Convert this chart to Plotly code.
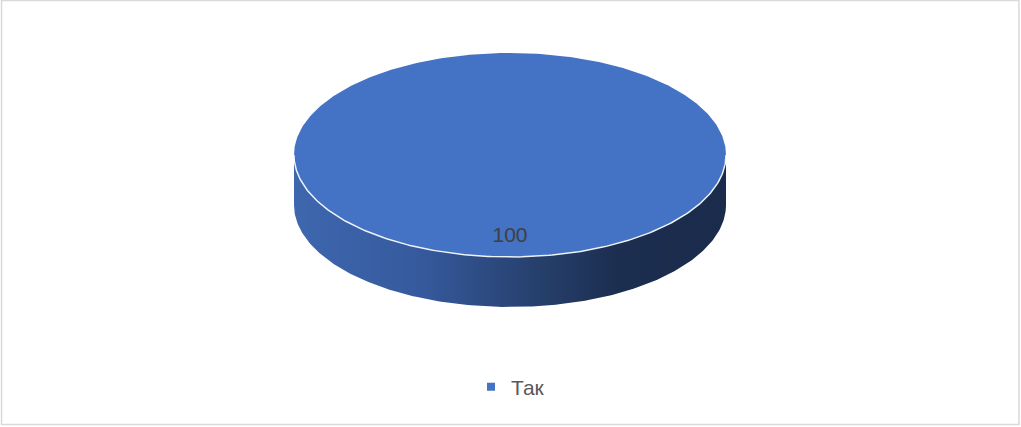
import numpy as np
import plotly.graph_objects as go

# ---- data ----
labels = ["Так"]
values = [100]
colors = ["#4472c4"]

# ---- geometry (pixel-space layout constants) ----
W, H = 1021, 427
cx, cy = 510, 155
rx, ry = 216, 102
depth = 50

total = sum(values)


def pt(theta, dy=0.0, r=1.0):
    return cx + r * rx * np.sin(theta), cy - r * ry * np.cos(theta) + dy


fig = go.Figure()

start = 0.0
for lab, val, col in zip(labels, values, colors):
    frac = val / total
    end = start + 2 * np.pi * frac
    # visible front side: angles between pi/2 and 3pi/2
    a0, a1 = max(start, np.pi / 2), min(end, 3 * np.pi / 2)
    if a1 > a0:
        th = np.linspace(a0, a1, 200)
        xt, yt = pt(th)
        xb, yb = pt(th[::-1], dy=depth)
        fig.add_trace(go.Scatter(
            x=np.concatenate([xt, xb, xt[:1]]),
            y=np.concatenate([yt, yb, yt[:1]]),
            mode="lines", line=dict(width=0), fill="toself",
            fillgradient=dict(type="horizontal",
                              colorscale=[[0, "#3e67af"], [0.3, "#35599c"],
                                          [0.55, "#27416f"], [0.75, "#1c2e50"],
                                          [1, "#1a2b4b"]]),
            hoverinfo="skip", showlegend=False))
    # top face
    th = np.linspace(start, end, 400)
    xt, yt = pt(th)
    if frac < 1:
        xt = np.concatenate([[cx], xt, [cx]])
        yt = np.concatenate([[cy], yt, [cy]])
    fig.add_trace(go.Scatter(
        x=xt, y=yt, mode="lines", line=dict(width=0), fill="toself",
        fillcolor=col, hoverinfo="skip", showlegend=False))
    # white rim along front edge
    if a1 > a0:
        th = np.linspace(a0, a1, 200)
        xr, yr = pt(th)
        fig.add_trace(go.Scatter(
            x=xr, y=yr, mode="lines",
            line=dict(color="rgba(255,255,255,0.9)", width=1.5),
            hoverinfo="skip", showlegend=False))
    # data label
    mid = (start + end) / 2
    lx, ly = pt(mid, r=0.8)
    fig.add_trace(go.Scatter(
        x=[lx], y=[ly], mode="text", text=[str(val)],
        textfont=dict(family="Liberation Sans, Arial", size=21, color="#404040"),
        textposition="middle center", hoverinfo="skip", showlegend=False))
    # legend entry
    fig.add_trace(go.Scatter(
        x=[None], y=[None], mode="markers", name=lab,
        marker=dict(symbol="square", size=8, color=col)))
    start = end

fig.update_layout(
    width=W, height=H,
    margin=dict(l=0, r=0, t=0, b=0),
    paper_bgcolor="white", plot_bgcolor="white",
    xaxis=dict(range=[0, W], visible=False, fixedrange=True),
    yaxis=dict(range=[H, 0], visible=False, fixedrange=True),
    showlegend=True,
    legend=dict(x=0.5, xanchor="center", y=(H - 387) / H, yanchor="middle",
                orientation="h",
                font=dict(family="Liberation Sans, Arial", size=21, color="#595959"),
                itemwidth=30),
    shapes=[dict(type="rect", xref="paper", yref="paper", x0=0.0015, y0=0.006,
                 x1=0.998, y1=0.999, line=dict(color="#d9d9d9", width=1.5))],
)

fig.write_html("out.html", config={"displayModeBar": False},
               post_script="document.body.style.margin='0';")
